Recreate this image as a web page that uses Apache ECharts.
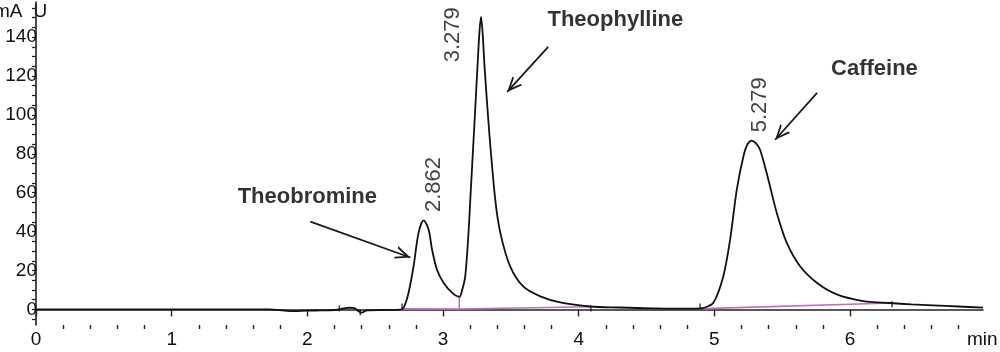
<!DOCTYPE html>
<html>
<head>
<meta charset="utf-8">
<title>Chromatogram</title>
<script src="https://cdn.jsdelivr.net/npm/echarts@6.0.0/dist/echarts.min.js"></script>
<style>
html, body { margin: 0; padding: 0; background: #fff; }
#chart { width: 1000px; height: 352px; }
</style>
</head>
<body>
<div id="chart"></div>
<script>
// retention time (min) and detector signal (mAU)
const times = [0, 0.5, 1.0, 1.5, 1.72, 1.8, 1.9, 2.0, 2.1, 2.2, 2.26, 2.31, 2.35, 2.38, 2.4, 2.44, 2.55, 2.65, 2.7, 2.72,
    2.746, 2.783, 2.82, 2.857, 2.894, 2.919, 2.955, 3.004, 3.066, 3.12, 3.142, 3.164, 3.188, 3.201, 3.228, 3.254, 3.268,
    3.28, 3.292, 3.306, 3.341, 3.385, 3.422, 3.495, 3.591, 3.717, 3.864, 4.085, 4.306, 4.549, 4.8, 4.895, 4.93, 4.993,
    5.066, 5.116, 5.165, 5.214, 5.245, 5.276, 5.305, 5.337, 5.398, 5.46, 5.534, 5.632, 5.755, 5.902, 6.098, 6.294, 6.45,
    6.611, 6.8, 6.98];
const signal = [0, 0, 0, 0, 0, -0.4, -0.9, -0.6, -0.5, -0.3, 0.3, 0.9, 0.6, -1.0, -1.6, -0.5, -0.3, -0.2, 0.2, 2.5,
    8.6, 22.2, 39.5, 45.8, 41.0, 30.8, 20.5, 13.7, 8.6, 6.5, 10.3, 17.1, 39.5, 56.4, 90.8, 124.8, 142,
    150.4, 142, 124.8, 90.8, 56.4, 39.5, 22.1, 11.8, 6.7, 3.6, 1.5, 1.0, 0.5, 0.4, 0.5, 1.0, 3.4,
    17.1, 35.9, 61.5, 78.6, 85, 86.8, 85.5, 82.1, 66.7, 49.6, 34.2, 22.2, 13.7, 7.7, 4.3, 3.3, 2.6,
    2.1, 1.5, 0.9];

// integration baseline drawn by the software (null = gap)
const baseTimes = [2.25, 2.35, null, 2.70, 3.12, 3.12, 3.12, 4.09, null, 4.92, 6.31];
const baseValues = [0.6, 0.8, null, 0.3, 0.2, 6.5, 0.2, 1.4, null, 0.4, 3.3];

// small integration event marks on the trace
const eventTimes = [2.236, 2.39, 2.698, 4.09, 4.895, 6.31];
const eventValues = [0.5, -1.5, 1.5, 0.5, 1.5, 2.6];

// retention time labels above the peaks
const peakNames = ['2.862', '3.279', '5.279'];
const peakLabelTimes = [2.935, 3.075, 5.337];
const peakLabelValues = [50, 127, 91];

// compound names and their arrows
const compounds = ['Theobromine', 'Theophylline', 'Caffeine'];
const compoundTimes = [2.0, 4.27, 6.18];
const compoundValues = [58, 149, 123.5];
const arrowFrom = [[2.022, 45.1], [3.775, 134.9], [5.757, 111.3]];
const arrowTo = [[2.759, 26.7], [3.473, 111.8], [5.448, 87.2]];

// axis ticks and labels
const xMajor = [0, 1, 2, 3, 4, 5, 6];
const xMinor = [0.2, 0.4, 0.6, 0.8, 1.2, 1.4, 1.6, 1.8, 2.2, 2.4, 2.6, 2.8, 3.2, 3.4, 3.6, 3.8,
    4.2, 4.4, 4.6, 4.8, 5.2, 5.4, 5.6, 5.8, 6.2, 6.4, 6.6, 6.8];
const yLabels = [0, 20, 40, 60, 80, 100, 120, 140];
const yTicks = [-5, 0, 5, 10, 15, 20, 25, 30, 35, 40, 45, 50, 55, 60, 65, 70, 75, 80, 85, 90, 95,
    100, 105, 110, 115, 120, 125, 130, 135, 140, 145, 150, 155];

const FONT = "'Liberation Sans', Arial, sans-serif";
const INK = '#111';
const AXIS = '#222';

const signalData = times.map((t, i) => [t, signal[i]]);
const baseData = baseTimes.map((t, i) => (t === null ? [null, null] : [t, baseValues[i]]));
const eventData = eventTimes.map((t, i) => [t, eventValues[i]]);
const peakData = peakNames.map((n, i) => ({ name: n, value: [peakLabelTimes[i], peakLabelValues[i]] }));
const compoundData = compounds.map((n, i) => ({ name: n, value: [compoundTimes[i], compoundValues[i]] }));
const arrowData = arrowFrom.map((f, i) => [{ coord: f }, { coord: arrowTo[i] }]);

// open arrow head, tip placed at the symbol centre
const arrowHead = 'path://M5,-10 M5,0 L10,10 L8.5,10 L5,3 L1.5,10 L0,10 Z';

const chart = echarts.init(document.getElementById('chart'));

const option = {
    animation: false,
    backgroundColor: '#fff',
    grid: { left: 36, right: 17, top: 2, bottom: 27 },
    xAxis: [{
        type: 'value', min: 0, max: 6.98,
        axisLine: { lineStyle: { color: AXIS, width: 1.6 } },
        axisTick: { customValues: xMajor, length: 7, lineStyle: { color: AXIS, width: 1.4 } },
        axisLabel: { customValues: xMajor, fontFamily: FONT, fontSize: 19, color: INK, margin: 5 },
        splitLine: { show: false }
    }, {
        type: 'value', min: 0, max: 6.98, position: 'bottom', offset: 0,
        axisLine: { show: false },
        axisTick: { customValues: xMinor, length: 4, lineStyle: { color: AXIS, width: 1.4 } },
        axisLabel: { show: false },
        splitLine: { show: false }
    }],
    yAxis: {
        type: 'value', min: -8, max: 158, offset: 3,
        axisLine: { show: true, lineStyle: { color: AXIS, width: 1.6 } },
        axisTick: { show: true, customValues: yTicks, length: 4, lineStyle: { color: AXIS, width: 1.3 } },
        axisLabel: { customValues: yLabels, fontFamily: FONT, fontSize: 19, color: INK, margin: -4 },
        splitLine: { show: false }
    },
    graphic: [{
        type: 'text', x: -6, y: 2,
        style: {
            text: '{a|mA}{b|U}',
            rich: {
                a: { fontFamily: FONT, fontSize: 19, fill: INK },
                b: { fontFamily: FONT, fontSize: 19, fill: INK, padding: [0, 0, 0, 11] }
            }
        }
    }, {
        type: 'text', x: 967, y: 330,
        style: { text: 'min', fontFamily: FONT, fontSize: 19, fill: INK }
    }],
    series: [{
        name: 'baseline', type: 'line', data: baseData, symbol: 'none',
        connectNulls: false, silent: true, z: 2,
        lineStyle: { color: '#bf6fbf', width: 1.6 }
    }, {
        name: 'signal', type: 'line', data: signalData, symbol: 'none',
        smooth: 0.3, silent: true, z: 3,
        lineStyle: { color: '#111', width: 1.8 }
    }, {
        name: 'events', type: 'scatter', data: eventData, silent: true, z: 4,
        symbol: 'rect', symbolSize: [1.5, 6],
        itemStyle: { color: '#111' }
    }, {
        name: 'retention', type: 'scatter', data: peakData, silent: true, z: 5,
        symbolSize: 0.1, itemStyle: { color: 'transparent' },
        label: {
            show: true, formatter: '{b}', rotate: 90, position: [0, 0],
            align: 'left', verticalAlign: 'middle',
            fontFamily: FONT, fontSize: 22, color: INK
        }
    }, {
        name: 'compounds', type: 'scatter', data: compoundData, silent: true, z: 5,
        symbolSize: 0.1, itemStyle: { color: 'transparent' },
        label: {
            show: true, formatter: '{b}', position: 'inside',
            fontFamily: FONT, fontSize: 22, fontWeight: 'bold', color: '#000'
        },
        markLine: {
            silent: true,
            symbol: ['none', arrowHead],
            symbolSize: [13, 30],
            label: { show: false },
            lineStyle: { color: '#1a1a1a', width: 1.8, type: 'solid' },
            emphasis: { disabled: true },
            data: arrowData
        }
    }]
};

chart.setOption(option);
</script>
</body>
</html>
